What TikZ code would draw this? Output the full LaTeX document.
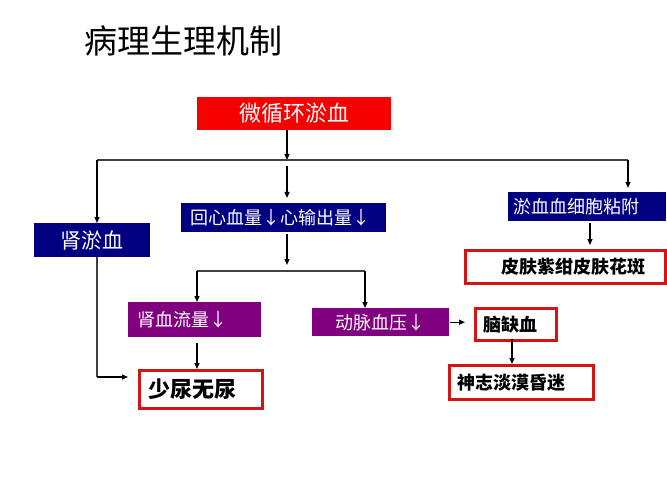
\documentclass[tikz,border=0pt]{standalone}
\usepackage{fontspec}
\setmainfont{Noto Sans CJK SC}
\usetikzlibrary{arrows.meta}
\definecolor{boxred}{HTML}{F70000}
\definecolor{navy}{HTML}{000080}
\definecolor{purp}{HTML}{800080}
\definecolor{outl}{HTML}{D41414}
\tikzset{
  base/.style={rectangle, anchor=north west, inner ysep=0pt, align=left},
  fillred/.style={base, fill=boxred, text=white},
  fillnavy/.style={base, fill=navy, text=white},
  fillpurp/.style={base, fill=purp, text=white},
  outlined/.style={base, draw=outl, line width=2.6pt, fill=white, text=black},
  arr/.style={-{Triangle[length=6pt,width=5pt]}, line width=1.3pt, black},
  thin/.style={line width=1.1pt, black!75},
  fs/.style={font=\fontsize{#1}{#1}\selectfont}
}
\begin{document}
\begin{tikzpicture}[x=1pt,y=1pt]
\useasboundingbox (0,0) rectangle (667,-500);
\fill[white] (0,0) rectangle (667,-500);
% title
\node[anchor=west, inner sep=0pt, fs=33] (title) at (84,-41) {病理生理机制};
% boxes: anchor north west, width w, height h, pad p
\node[fillred, fs=22, minimum height=33pt, inner xsep=0pt, text width=194pt, align=center] (mc) at (197,-97) {微循环淤血};
\node[fillnavy, fs=18, minimum height=29pt, inner xsep=9pt, text width=187pt] (hx) at (181,-203) {回心血量↓心输出量↓};
\node[fillnavy, fs=21, minimum height=34pt, inner xsep=0pt, text width=116pt, align=center] (kd) at (34,-223) {肾淤血};
\node[fillnavy, fs=18, minimum height=29pt, inner xsep=5pt, text width=148pt] (nb) at (508,-192) {淤血血细胞粘附};
\node[outlined, fs=18, minimum height=33pt, inner xsep=36pt, text width=128pt, font=\fontsize{18}{18}\selectfont\bfseries] (pf) at (464,-249) {皮肤紫绀皮肤花斑};
\node[fillpurp, fs=18, minimum height=35pt, inner xsep=9pt, text width=115pt] (sx) at (128,-302) {肾血流量↓};
\node[fillpurp, fs=18, minimum height=28pt, inner xsep=0pt, text width=137pt, align=center] (dm) at (312,-308) {动脉血压↓};
\node[outlined, fs=18, minimum height=32pt, inner xsep=8pt, text width=65pt, font=\fontsize{18}{18}\selectfont\bfseries] (nq) at (474,-307) {脑缺血};
\node[outlined, fs=22, minimum height=38pt, inner xsep=9pt, text width=105pt, font=\fontsize{22}{22}\selectfont\bfseries] (sn) at (138,-369) {少尿无尿};
\node[outlined, fs=18, minimum height=34pt, inner xsep=8pt, text width=128pt, font=\fontsize{18}{18}\selectfont\bfseries] (sz) at (448,-364) {神志淡漠昏迷};
% junction points
\coordinate (j1) at (287,-160);
\coordinate (jl) at (97,-160);
\coordinate (jr) at (628,-160);
\coordinate (j2) at (287,-271);
\coordinate (j2l) at (197,-271);
\coordinate (j2r) at (365,-271);
\coordinate (kl) at (97,-377);
% connectors
\draw[arr] (mc.south -| j1) -- (j1);
\draw[thin] (jl) -- (jr);
\draw[arr] (jl) -- (jl |- kd.north);
\draw[arr, shorten >=4pt] (jr) -- (jr |- nb.north);
\draw[arr, shorten <=6pt, shorten >=5pt] (j1) -- (j1 |- hx.north);
\draw[arr, shorten <=2pt, shorten >=6pt] (j1 |- hx.south) -- (j2);
\draw[thin] (j2l) -- (j2r);
\draw[arr] (j2l) -- (j2l |- sx.north);
\draw[arr] (j2r) -- (j2r |- dm.north);
\draw[arr, shorten <=6pt] (j2l |- sx.south) -- (j2l |- sn.north);
\draw[thin] (jl |- kd.south) -- (kl);
\draw[arr, shorten >=10pt] (kl) -- (kl -| sn.west);
\draw[arr, shorten <=1pt, shorten >=9pt] (dm.east) -- (dm.east -| nq.west);
\draw[arr] (512,-339) -- (512,-364);
\draw[arr, shorten <=2pt, shorten >=4pt] (590,-221) -- (590,-249);
\end{tikzpicture}
\end{document}
